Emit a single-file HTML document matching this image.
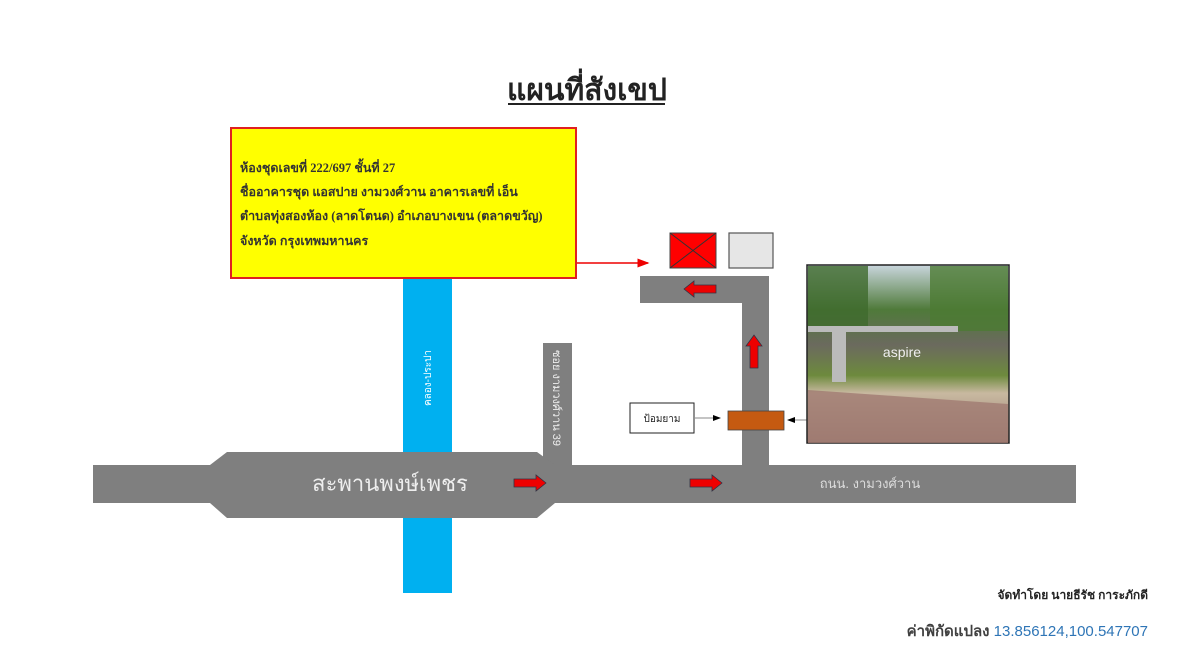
<!DOCTYPE html>
<html><head><meta charset="utf-8"><style>
html,body{margin:0;padding:0;background:#fff;width:1200px;height:669px;overflow:hidden}
svg{display:block}
text{font-family:"Liberation Sans","Noto Sans CJK SC",sans-serif}
.s{font-family:"Liberation Serif","Noto Serif CJK SC",serif}
</style></head><body>
<svg width="1200" height="669" viewBox="0 0 1200 669" xmlns="http://www.w3.org/2000/svg">
<defs>
<marker id="ar" markerWidth="8" markerHeight="8" refX="7" refY="4" orient="auto"><path d="M0,1 L8,4 L0,7z" fill="#e00"/></marker>
<marker id="ab" markerWidth="8" markerHeight="8" refX="7" refY="4" orient="auto"><path d="M0,1 L8,4 L0,7z" fill="#000"/></marker>
<linearGradient id="ph" x1="0" y1="0" x2="0" y2="1">
<stop offset="0" stop-color="#c9d6dd"/><stop offset="0.25" stop-color="#4f7a3a"/><stop offset="0.45" stop-color="#6b6a5e"/><stop offset="0.62" stop-color="#6d8a3d"/><stop offset="0.72" stop-color="#c8b9a0"/><stop offset="1" stop-color="#9a7a70"/></linearGradient>
</defs>
<text x="587" y="100" font-size="30" font-weight="bold" text-anchor="middle" fill="#222">แผนที่สังเขป</text>
<line x1="508" y1="104" x2="665" y2="104" stroke="#222" stroke-width="2"/>

<!-- canal -->
<rect x="403" y="278" width="49" height="315" fill="#00b0f0"/>
<text transform="translate(431,378) rotate(-90)" font-size="10" fill="#fff" text-anchor="middle">คลอง-ประปา</text>

<!-- yellow box -->
<rect x="231" y="128" width="345" height="150" fill="#ffff00" stroke="#e02020" stroke-width="2"/>
<g class="s" font-size="12.5" font-weight="bold" fill="#333">
<text class="s" x="240" y="172">ห้องชุดเลขที่ 222/697 ชั้นที่ 27</text>
<text class="s" x="240" y="196">ชื่ออาคารชุด แอสปาย งามวงศ์วาน อาคารเลขที่ เอ็น</text>
<text class="s" x="240" y="220">ตำบลทุ่งสองห้อง (ลาดโตนด) อำเภอบางเขน (ตลาดขวัญ)</text>
<text class="s" x="240" y="245">จังหวัด กรุงเทพมหานคร</text>
</g>
<line x1="577" y1="263" x2="648" y2="263" stroke="#e00" stroke-width="1.5" marker-end="url(#ar)"/>

<!-- boxes -->
<rect x="670" y="233" width="46" height="35" fill="#f00" stroke="#444" stroke-width="1"/>
<line x1="670" y1="233" x2="716" y2="268" stroke="#333"/><line x1="716" y1="233" x2="670" y2="268" stroke="#333"/>
<rect x="729" y="233" width="44" height="35" fill="#e6e6e6" stroke="#555" stroke-width="1.2"/>

<!-- roads -->
<rect x="640" y="276" width="129" height="27" fill="#7f7f7f"/>
<rect x="742" y="276" width="27" height="192" fill="#7f7f7f"/>
<rect x="543" y="343" width="29" height="125" fill="#7f7f7f"/>
<text transform="translate(553,398) rotate(90)" font-size="11" fill="#eee" text-anchor="middle">ซอย งามวงศ์วาน 39</text>
<rect x="93" y="465" width="983" height="38" fill="#7f7f7f"/>
<polygon points="210,465 227,452 537,452 555,465 555,503 537,518 227,518 210,503" fill="#7f7f7f"/>
<text x="390" y="491" font-size="22" fill="#eee" text-anchor="middle">สะพานพงษ์เพชร</text>
<text x="870" y="488" font-size="13" fill="#ddd" text-anchor="middle">ถนน. งามวงศ์วาน</text>

<!-- red arrows -->
<g fill="#e00" stroke="#334" stroke-width="0.8">
<polygon points="514,479 536,479 536,475 546,483 536,491 536,487 514,487"/>
<polygon points="690,479 712,479 712,475 722,483 712,491 712,487 690,487"/>
<polygon points="716,285 694,285 694,281 684,289 694,297 694,293 716,293"/>
<polygon points="750,368 750,346 746,346 754,335 762,346 758,346 758,368"/>
</g>

<!-- guard -->
<rect x="630" y="403" width="64" height="30" fill="#fff" stroke="#222" stroke-width="1"/>
<text x="662" y="422" font-size="10" fill="#222" text-anchor="middle">ป้อมยาม</text>
<line x1="695" y1="418" x2="720" y2="418" stroke="#888" stroke-width="1" marker-end="url(#ab)"/>
<rect x="728" y="411" width="56" height="19" fill="#c55a11" stroke="#444" stroke-width="0.8"/>
<line x1="808" y1="420" x2="788" y2="420" stroke="#888" stroke-width="1" marker-end="url(#ab)"/>

<!-- photo -->
<rect x="807" y="265" width="202" height="178" fill="url(#ph)" stroke="#222" stroke-width="1.5"/>
<rect x="808" y="266" width="60" height="60" fill="#3f6a2d" opacity="0.8"/>
<rect x="930" y="266" width="78" height="65" fill="#4c7a33" opacity="0.8"/>
<rect x="808" y="326" width="150" height="6" fill="#bbb"/>
<rect x="832" y="332" width="14" height="50" fill="#bbb"/>
<text x="902" y="357" font-size="14" fill="#eee" text-anchor="middle">aspire</text>
<polygon points="808,390 1008,404 1008,443 808,443" fill="#a07a72" opacity="0.8"/>

<!-- bottom -->
<text class="s" x="1148" y="599" font-size="12" font-weight="bold" fill="#222" text-anchor="end">จัดทำโดย นายธีรัช การะภักดี</text>
<text x="1148" y="636" font-size="15" text-anchor="end"><tspan fill="#404040" font-weight="bold">ค่าพิกัดแปลง </tspan><tspan fill="#2e75b6">13.856124,100.547707</tspan></text>
</svg>
</body></html>
